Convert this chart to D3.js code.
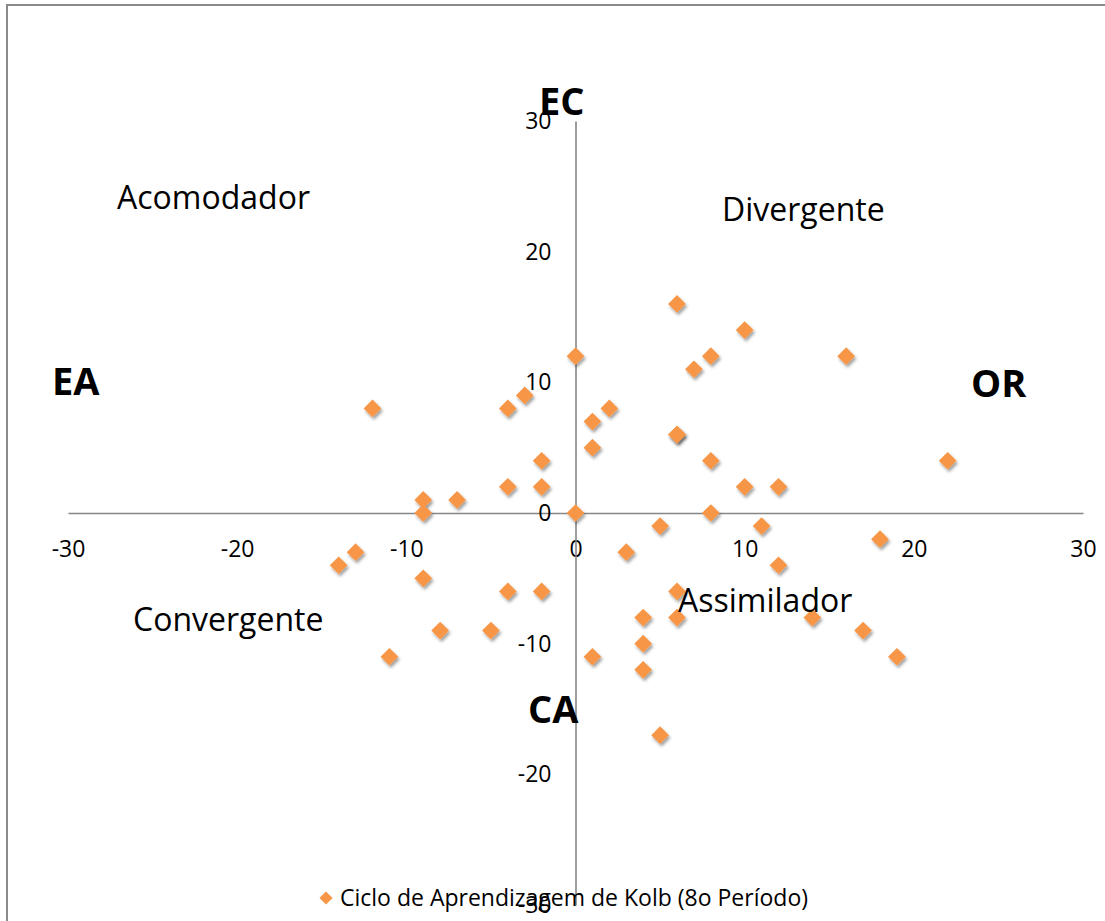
<!DOCTYPE html>
<html>
<head>
<meta charset="utf-8">
<script src="https://cdn.jsdelivr.net/npm/d3@7"></script>
<style>
  html, body { margin: 0; padding: 0; background: #fff; }
  svg { display: block; }
  text { font-family: "Open Sans", "Noto Sans", sans-serif; fill: #000; }
</style>
</head>
<body>
<svg id="chart" width="1105" height="921"></svg>
<script>
// ---- Data ----
const seriesName = "Ciclo de Aprendizagem de Kolb (8o Período)";
const xValues = [-12, -4, -3, 0, 6, 7, 2, 1, 1, 6, 6, -2, -2, -4, -9, -9, -7, 0, 5, 10, 8, 16, 8, 10, 12, 22, 8, 11,
                 -13, -14, -9, -4, -2, -8, -5, -11, 3, 6, 6, 4, 4, 4, 1, 5, 18, 12, 14, 17, 19];
const yValues = [8, 8, 9, 12, 16, 11, 8, 7, 5, 6, 6, 4, 2, 2, 1, 0, 1, 0, -1, 14, 12, 12, 4, 2, 2, 4, 0, -1,
                 -3, -4, -5, -6, -6, -9, -9, -11, -3, -6, -8, -8, -10, -12, -11, -17, -2, -4, -8, -9, -11];
const xTicks = [-30, -20, -10, 0, 10, 20, 30];
const yTicks = [-30, -20, -10, 0, 10, 20, 30];
const axisLabels = ["EC", "CA", "EA", "OR"];
const quadrantLabels = ["Acomodador", "Divergente", "Convergente", "Assimilador"];

// ---- Layout ----
const svg = d3.select("#chart");
const x = d3.scaleLinear().domain([-30, 30]).range([68, 1083]);
const y = d3.scaleLinear().domain([-30, 30]).range([905, 121]);
const orange = "#F79646";
const axisGrey = "#868686";

const defs = svg.append("defs");
const f = defs.append("filter").attr("id", "shadow")
  .attr("x", "-50%").attr("y", "-50%").attr("width", "200%").attr("height", "200%");
f.append("feDropShadow").attr("dx", 1.5).attr("dy", 2.5).attr("stdDeviation", 1.6)
  .attr("flood-color", "#000").attr("flood-opacity", 0.38);

// chart frame (cropped on the right and bottom)
svg.append("rect").attr("x", 7).attr("y", 5).attr("width", 1120).attr("height", 940)
  .attr("fill", "#fff").attr("stroke", "#8a8a8a").attr("stroke-width", 2);

// axes crossing at 0
const xAxis = svg.append("g").attr("transform", `translate(0,${y(0)})`)
  .call(d3.axisBottom(x).tickValues(xTicks).tickSize(0).tickPadding(28).tickFormat(d3.format("d")));
const yAxis = svg.append("g").attr("transform", `translate(${x(0)},0)`)
  .call(d3.axisLeft(y).tickValues(yTicks).tickSize(0).tickPadding(24).tickFormat(d3.format("d")));
[xAxis, yAxis].forEach(g => {
  g.select(".domain").attr("stroke", axisGrey).attr("stroke-width", 1.6);
  g.selectAll("text").style("font-family", '"Open Sans", sans-serif').style("font-size", "23px").attr("fill", "#000");
});
// use real minus-less hyphen like reference
svg.selectAll(".tick text").text(d => String(d));

// points
const diamond = d3.symbol().type(d3.symbolDiamond2).size(200);
const pts = xValues.map((v, i) => ({x: v, y: yValues[i]}));
svg.append("g").selectAll("path").data(pts).join("path")
  .attr("d", diamond)
  .attr("transform", d => `translate(${x(d.x)},${y(d.y)})`)
  .attr("fill", orange)
  .attr("filter", "url(#shadow)");

// quadrant labels
const qPos = [[117, 209], [722, 221], [133, 631], [678, 612]];
svg.append("g").selectAll("text").data(quadrantLabels).join("text")
  .attr("x", (d, i) => qPos[i][0]).attr("y", (d, i) => qPos[i][1])
  .style("font-size", "32px").text(d => d);

// bold axis labels
const aPos = [[539, 115], [528, 723], [52, 395], [971, 397]];
svg.append("g").selectAll("text").data(axisLabels).join("text")
  .attr("x", (d, i) => aPos[i][0]).attr("y", (d, i) => aPos[i][1])
  .style("font-size", "38px").style("font-weight", "700").text(d => d);

// legend
const lg = svg.append("g").attr("transform", "translate(326,898)");
lg.append("path").attr("d", d3.symbol().type(d3.symbolDiamond2).size(110)).attr("fill", orange);
lg.append("text").attr("x", 14).attr("y", 8).style("font-size", "23px").text(seriesName);
</script>
</body>
</html>
